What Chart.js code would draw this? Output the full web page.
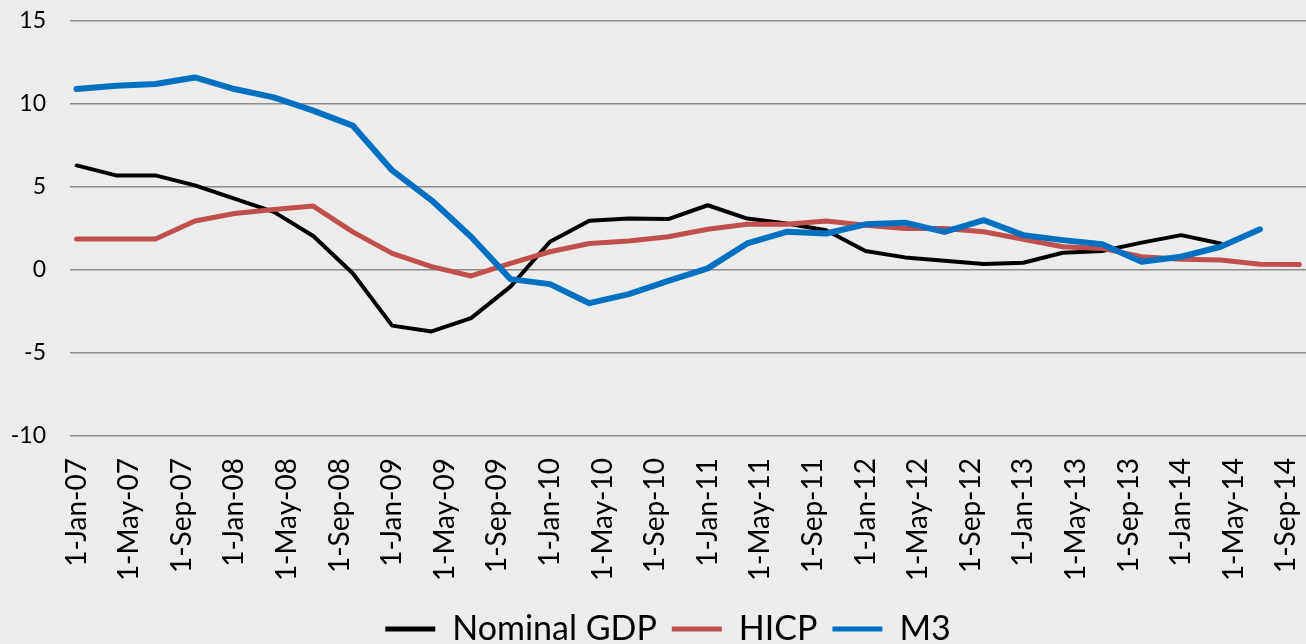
<!DOCTYPE html>
<html>
<head>
<meta charset="utf-8">
<script src="https://cdn.jsdelivr.net/npm/chart.js@4.4.1/dist/chart.umd.min.js"></script>
<style>
  html, body { margin: 0; padding: 0; background: #ececec; }
  #wrap { width: 1306px; height: 644px; position: relative; }
</style>
</head>
<body>
<div id="wrap"><canvas id="grafica"></canvas></div>
<script>
// quarterly observations (start of quarter)
const quarters = [
  'Jan-07', 'Apr-07', 'Jul-07', 'Oct-07', 'Jan-08', 'Apr-08', 'Jul-08', 'Oct-08',
  'Jan-09', 'Apr-09', 'Jul-09', 'Oct-09', 'Jan-10', 'Apr-10', 'Jul-10', 'Oct-10',
  'Jan-11', 'Apr-11', 'Jul-11', 'Oct-11', 'Jan-12', 'Apr-12', 'Jul-12', 'Oct-12',
  'Jan-13', 'Apr-13', 'Jul-13', 'Oct-13', 'Jan-14', 'Apr-14', 'Jul-14', 'Oct-14'
];

const nominalGDP = [
  6.3, 5.7, 5.7, 5.1, 4.3, 3.5, 2.05, -0.2,
  -3.35, -3.7, -2.9, -1.0, 1.7, 2.97, 3.1, 3.07,
  3.9, 3.1, 2.8, 2.4, 1.15, 0.76, 0.56, 0.36,
  0.44, 1.04, 1.14, 1.65, 2.1, 1.6, null, null
];

const hicp = [
  1.87, 1.87, 1.87, 2.95, 3.4, 3.65, 3.85, 2.3,
  1.0, 0.2, -0.36, 0.4, 1.1, 1.6, 1.75, 2.0,
  2.45, 2.75, 2.75, 2.95, 2.7, 2.5, 2.5, 2.3,
  1.85, 1.4, 1.3, 0.8, 0.65, 0.6, 0.35, 0.33
];

const m3 = [
  10.9, 11.1, 11.2, 11.6, 10.9, 10.4, 9.6, 8.7,
  6.0, 4.2, 2.0, -0.55, -0.85, -2.0, -1.45, -0.65,
  0.1, 1.6, 2.3, 2.2, 2.75, 2.85, 2.3, 3.0,
  2.1, 1.8, 1.55, 0.5, 0.8, 1.4, 2.45, null
];

const tickLabels = [
  '1-Jan-07', '1-May-07', '1-Sep-07', '1-Jan-08', '1-May-08', '1-Sep-08',
  '1-Jan-09', '1-May-09', '1-Sep-09', '1-Jan-10', '1-May-10', '1-Sep-10',
  '1-Jan-11', '1-May-11', '1-Sep-11', '1-Jan-12', '1-May-12', '1-Sep-12',
  '1-Jan-13', '1-May-13', '1-Sep-13', '1-Jan-14', '1-May-14', '1-Sep-14'
];

const MESES = ['Jan', 'Feb', 'Mar', 'Apr', 'May', 'Jun', 'Jul', 'Aug', 'Sep', 'Oct', 'Nov', 'Dec'];

// months since Jan-07
function mesIndex(label) {
  const partes = label.split('-');
  const mes = partes[partes.length - 2];
  const anio = parseInt(partes[partes.length - 1], 10);
  return (anio - 7) * 12 + MESES.indexOf(mes);
}

const quarterPos = quarters.map(mesIndex);
const tickPos = tickLabels.map(mesIndex);

function serie(valores) {
  return quarterPos
    .map((x, i) => ({ x, y: valores[i] }))
    .filter((p) => p.y !== null);
}

const FUENTE = 'Lato, "Open Sans", sans-serif';

// the left layout padding only nudges the legend; let the y labels use the full margin
const ejeIzquierdo = {
  id: 'ejeIzquierdo',
  afterLayout(chart) {
    chart.scales.y.left = 0;
  }
};

const ctx = document.getElementById('grafica').getContext('2d');

const chart = new Chart(ctx, {
  type: 'line',
  data: {
    datasets: [
      {
        label: 'Nominal GDP',
        data: serie(nominalGDP),
        borderColor: '#000000',
        backgroundColor: '#000000',
        borderWidth: 4,
        order: 3
      },
      {
        label: 'HICP',
        data: serie(hicp),
        borderColor: '#c0504d',
        backgroundColor: '#c0504d',
        borderWidth: 5,
        order: 2
      },
      {
        label: 'M3',
        data: serie(m3),
        borderColor: '#0070c0',
        backgroundColor: '#0070c0',
        borderWidth: 6,
        order: 1
      }
    ]
  },
  options: {
    responsive: true,
    maintainAspectRatio: false,
    animation: false,
    elements: {
      point: { radius: 0, hoverRadius: 0 },
      line: { tension: 0, borderJoinStyle: 'round', borderCapStyle: 'round' }
    },
    layout: {
      padding: { left: 30, right: 0, top: 21, bottom: -12 }
    },
    plugins: {
      tooltip: { enabled: false },
      legend: {
        position: 'bottom',
        labels: {
          color: '#000',
          font: { family: FUENTE, size: 34 },
          boxWidth: 50,
          boxHeight: 5,
          padding: 15,
          sort: (a, b) => a.datasetIndex - b.datasetIndex,
          generateLabels(chart) {
            const items = Chart.defaults.plugins.legend.labels.generateLabels(chart);
            items.forEach((it) => {
              it.lineWidth = 0;
              it.fillStyle = it.strokeStyle;
            });
            return items;
          }
        }
      }
    },
    scales: {
      x: {
        type: 'linear',
        min: -0.5,
        max: 93.5,
        grid: { display: false, drawTicks: false },
        border: { display: false },
        afterBuildTicks(scale) {
          scale.ticks = tickPos.map((v) => ({ value: v }));
        },
        afterFit(scale) {
          scale.height = 161;
          scale.paddingLeft = 0;
          scale.paddingRight = 0;
        },
        ticks: {
          autoSkip: false,
          minRotation: 90,
          maxRotation: 90,
          padding: 22,
          color: '#000',
          font: { family: FUENTE, size: 28 },
          callback: (value) => tickLabels[tickPos.indexOf(value)]
        }
      },
      y: {
        min: -10,
        max: 15,
        grid: { color: '#8c8c8c', lineWidth: 1.6, drawTicks: false },
        border: { display: false },
        afterFit(scale) {
          scale.width = 40;
          scale.paddingTop = 0;
          scale.paddingBottom = 0;
        },
        ticks: {
          stepSize: 5,
          padding: 24,
          color: '#000',
          font: { family: FUENTE, size: 23 }
        }
      }
    }
  },
  plugins: [ejeIzquierdo]
});
</script>
</body>
</html>
